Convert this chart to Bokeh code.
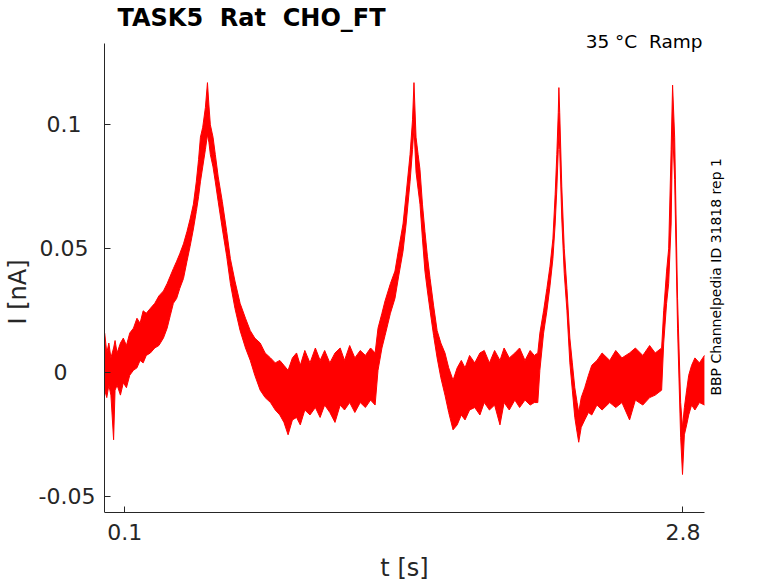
#Import Bokeh libs
from math import pi
from bokeh.models import ColumnDataSource, FixedTicker, Label
from bokeh.plotting import figure
from bokeh.embed import file_html
from bokeh.resources import INLINE

#Trace envelope: time [s], upper and lower edge [nA]
t_s = [0.003, 0.013, 0.023, 0.033, 0.046, 0.053, 0.063, 0.079, 0.093, 0.108,
       0.124, 0.142, 0.159, 0.174, 0.189, 0.204, 0.224, 0.245, 0.265, 0.287,
       0.305, 0.320, 0.335, 0.351, 0.366, 0.384, 0.401, 0.416, 0.432, 0.446,
       0.457, 0.466, 0.477, 0.490, 0.500, 0.507, 0.514, 0.527, 0.538, 0.552,
       0.572, 0.593, 0.611, 0.633, 0.658, 0.684, 0.707, 0.729, 0.755, 0.779,
       0.805, 0.828, 0.850, 0.870, 0.890, 0.911, 0.931, 0.949, 0.971, 0.996,
       1.022, 1.045, 1.067, 1.092, 1.117, 1.142, 1.163, 1.188, 1.213, 1.239,
       1.264, 1.289, 1.311, 1.325, 1.344, 1.359, 1.385, 1.407, 1.425, 1.446,
       1.461, 1.480, 1.492, 1.499, 1.509, 1.519, 1.528, 1.540, 1.552, 1.564,
       1.577, 1.594, 1.611, 1.629, 1.649, 1.667, 1.688, 1.708, 1.728, 1.746,
       1.768, 1.793, 1.818, 1.839, 1.864, 1.889, 1.915, 1.935, 1.960, 1.987,
       2.010, 2.036, 2.061, 2.081, 2.098, 2.108, 2.126, 2.142, 2.157, 2.171,
       2.182, 2.190, 2.197, 2.200, 2.204, 2.214, 2.226, 2.239, 2.253, 2.265,
       2.277, 2.288, 2.296, 2.308, 2.325, 2.343, 2.359, 2.384, 2.409, 2.446,
       2.475, 2.505, 2.542, 2.570, 2.606, 2.639, 2.666, 2.697, 2.707, 2.721,
       2.731, 2.743, 2.750, 2.760, 2.774, 2.789, 2.798, 2.807, 2.818, 2.828,
       2.842, 2.858, 2.880, 2.904]

i_hi = [0.016, 0.008, 0.012, 0.006, 0.010, 0.013, 0.008, 0.012, 0.014, 0.011,
        0.016, 0.018, 0.022, 0.020, 0.025, 0.024, 0.026, 0.028, 0.031, 0.033,
        0.036, 0.039, 0.042, 0.045, 0.048, 0.052, 0.057, 0.062, 0.068, 0.077,
        0.086, 0.095, 0.099, 0.107, 0.117, 0.108, 0.100, 0.095, 0.088, 0.079,
        0.069, 0.057, 0.046, 0.037, 0.028, 0.022, 0.017, 0.014, 0.012, 0.008,
        0.006, 0.004, 0.005, 0.003, 0.001, 0.006, 0.008, 0.003, 0.009, 0.004,
        0.010, 0.005, 0.009, 0.004, 0.008, 0.010, 0.005, 0.011, 0.006, 0.009,
        0.007, 0.010, 0.008, 0.018, 0.024, 0.029, 0.036, 0.041, 0.050, 0.060,
        0.072, 0.088, 0.102, 0.117, 0.095, 0.088, 0.082, 0.068, 0.057, 0.047,
        0.038, 0.027, 0.017, 0.012, 0.008, 0.002, -0.003, 0.002, 0.005, 0.002,
        0.007, 0.004, 0.008, 0.009, 0.004, 0.009, 0.005, 0.010, 0.006, 0.008,
        0.010, 0.005, 0.009, 0.007, 0.008, 0.016, 0.025, 0.034, 0.043, 0.054,
        0.072, 0.088, 0.105, 0.115, 0.105, 0.075, 0.050, 0.034, 0.014, 0.004,
        -0.006, -0.012, -0.016, -0.010, -0.006, -0.001, 0.003, 0.005, 0.008, 0.005,
        0.009, 0.006, 0.008, 0.010, 0.007, 0.011, 0.008, 0.010, 0.025, 0.041,
        0.050, 0.090, 0.116, 0.095, 0.030, -0.012, -0.022, -0.014, -0.007, -0.001,
        0.003, 0.006, 0.004, 0.007]

i_lo = [-0.007, -0.010, -0.005, -0.009, -0.027, -0.007, -0.005, -0.009, -0.004, -0.006,
        -0.001, 0.001, 0.002, 0.005, 0.004, 0.007, 0.008, 0.010, 0.011, 0.014,
        0.018, 0.023, 0.028, 0.030, 0.034, 0.038, 0.045, 0.051, 0.058, 0.065,
        0.071, 0.077, 0.083, 0.090, 0.096, 0.093, 0.088, 0.083, 0.077, 0.069,
        0.058, 0.047, 0.036, 0.026, 0.017, 0.010, 0.005, -0.001, -0.007, -0.010,
        -0.012, -0.015, -0.017, -0.020, -0.025, -0.019, -0.018, -0.021, -0.015, -0.017,
        -0.014, -0.018, -0.013, -0.016, -0.020, -0.013, -0.015, -0.012, -0.016, -0.012,
        -0.014, -0.011, -0.013, 0.001, 0.010, 0.015, 0.024, 0.030, 0.039, 0.049,
        0.060, 0.077, 0.090, 0.099, 0.081, 0.074, 0.068, 0.054, 0.041, 0.033,
        0.025, 0.015, 0.006, -0.002, -0.009, -0.016, -0.023, -0.021, -0.017, -0.019,
        -0.015, -0.014, -0.017, -0.012, -0.015, -0.013, -0.021, -0.012, -0.015, -0.011,
        -0.014, -0.011, -0.013, -0.012, -0.012, 0.001, 0.016, 0.025, 0.035, 0.046,
        0.060, 0.074, 0.090, 0.098, 0.090, 0.062, 0.040, 0.025, 0.004, -0.007,
        -0.018, -0.024, -0.028, -0.022, -0.019, -0.016, -0.017, -0.013, -0.015, -0.012,
        -0.014, -0.012, -0.019, -0.011, -0.013, -0.010, -0.009, -0.007, 0.012, 0.028,
        0.036, 0.060, 0.098, 0.078, 0.018, -0.026, -0.041, -0.025, -0.021, -0.017,
        -0.013, -0.015, -0.012, -0.013]

x_ticks = [0.1, 2.8]
y_ticks = [-0.05, 0, 0.05, 0.1]
#tick labels sit roughly centred in the reference, hence the padding
y_tick_labels = {-0.05: "-0.05", 0: "0\u00a0\u00a0\u00a0\u00a0",
                 0.05: "0.05\u00a0", 0.1: "0.1\u00a0\u00a0"}

t_span = (0.002, 2.905)
i_span = (-0.0565, 0.1327)

source = ColumnDataSource(dict(t=t_s, hi=i_hi, lo=i_lo))

FONT = "DejaVu Sans"
INK = "#262626"

#frame is larger than the axes so the notes around the plot stay unclipped
p = figure(width=762, height=583, x_range=(0.00195, 3.1656), y_range=(-0.08496, 0.15012),
           output_backend="svg", toolbar_location=None,
           min_border_left=103, min_border_right=4, min_border_top=0, min_border_bottom=0)
p.grid.visible = False
p.outline_line_color = None

#Trace
p.varea(x="t", y1="lo", y2="hi", source=source, fill_color="red")
p.line(x="t", y="hi", source=source, line_color="red", line_width=1)
p.line(x="t", y="lo", source=source, line_color="red", line_width=1)

#Axes
for ax in (p.xaxis[0], p.yaxis[0]):
    ax.axis_line_color = INK
    ax.major_tick_line_color = INK
    ax.minor_tick_line_color = None
    ax.major_tick_in = 6
    ax.major_tick_out = 0
    ax.major_label_text_font = FONT
    ax.major_label_text_font_size = "22px"
    ax.major_label_text_color = INK
    ax.axis_label_text_font = FONT
    ax.axis_label_text_font_size = "24px"
    ax.axis_label_text_font_style = "normal"
    ax.axis_label_text_color = INK

p.xaxis.ticker = FixedTicker(ticks=x_ticks)
p.xaxis.bounds = t_span
p.xaxis.fixed_location = i_span[0]
p.xaxis.axis_label = "t [s]"
p.xaxis.major_label_standoff = 11
p.xaxis.axis_label_standoff = 11

p.yaxis.ticker = FixedTicker(ticks=y_ticks)
p.yaxis.bounds = i_span
p.yaxis.major_label_overrides = y_tick_labels
p.yaxis.axis_label = "I [nA]"
p.yaxis.major_label_standoff = 9
p.yaxis.axis_label_standoff = 4

#Title and side notes
p.add_layout(Label(x=0.0647, y=0.1429, text="TASK5\u00a0\u00a0Rat\u00a0\u00a0CHO_FT",
                   text_font=FONT, text_font_size="24px", text_font_style="bold",
                   text_color="black", text_align="left", text_baseline="middle"))
p.add_layout(Label(x=2.895, y=0.1336, text="35 °C\u00a0\u00a0Ramp", text_font=FONT,
                   text_font_size="18.5px", text_color="black", text_align="right",
                   text_baseline="middle"))
p.add_layout(Label(x=2.958, y=-0.0092, text="BBP Channelpedia ID 31818 rep 1", angle=pi / 2,
                   text_font=FONT, text_font_size="14px", text_color="black",
                   text_align="left", text_baseline="middle"))

open("out.html", "w").write(file_html(p, INLINE))
